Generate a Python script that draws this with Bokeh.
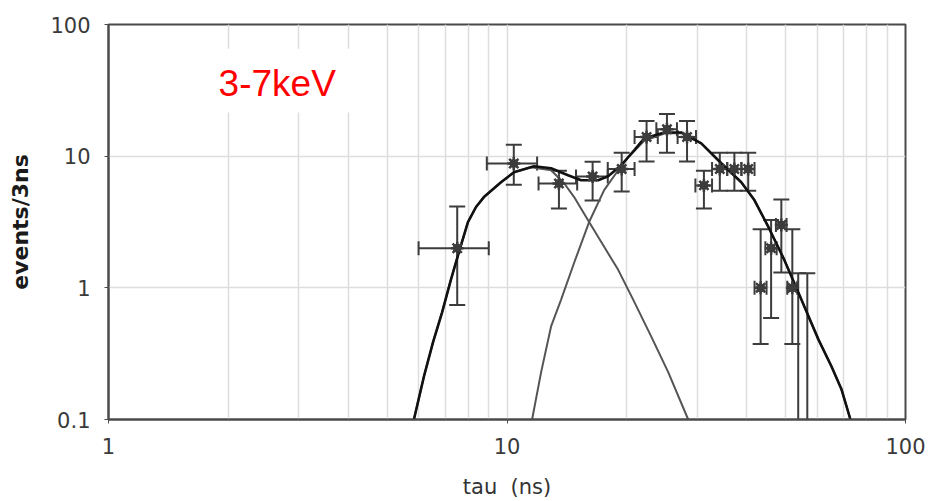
from bokeh.plotting import figure
from bokeh.models import (Range1d, FixedTicker, CustomJSTickFormatter, Whisker, TeeHead,
                          ColumnDataSource, Label, BoxAnnotation)
from bokeh.embed import file_html
from bokeh.resources import INLINE

# Decay-time histogram, 3-7 keV, events per 3 ns bin
tau = [7.5, 10.4, 13.5, 16.4, 19.4, 22.4, 25.2, 28.3, 31.2, 34.2, 37.2, 40.3,
       43.3, 46.0, 48.8, 52.0, 53.8, 56.7]
counts = [2.0, 8.8, 6.2, 7.0, 8.0, 14.0, 16.0, 14.0, 6.0, 8.0, 8.0, 8.0,
          1.0, 2.0, 3.0, 1.0, 0.0, 0.0]
err_hi = [4.14, 12.2, 7.75, 9.06, 10.6, 18.5, 20.9, 18.5, 7.75, 10.6, 10.6, 10.6,
          2.78, 3.27, 4.68, 2.78, 1.29, 1.29]
err_lo = [0.74, 6.07, 4.0, 4.6, 5.38, 9.1, 10.6, 9.1, 4.0, 5.47, 5.47, 5.47,
          0.375, 0.59, 1.31, 0.375, 0.0, 0.0]
BIN_WIDTH = 3.0

# Two-component fit: total and the fast / slow components
fit_tau = [5.84, 6.19, 6.52, 6.87, 7.23, 7.58, 7.98, 8.36, 8.75, 9.66,
           10.41, 11.69, 12.90, 14.23, 15.35, 16.93, 17.94, 19.34, 20.85, 22.09,
           24.80, 27.36, 30.73, 34.49, 38.72, 41.76, 45.28, 49.65, 54.79, 60.44,
           65.17, 69.06, 72.75]
fit_total = [0.10, 0.213, 0.385, 0.649, 1.15, 1.88, 3.16, 4.11, 4.89, 6.34,
             7.55, 8.38, 8.09, 7.16, 6.57, 6.57, 7.04, 8.53, 11.07, 13.64,
             15.14, 15.14, 12.51, 8.83, 6.34, 4.64, 2.90, 1.63, 0.814, 0.406,
             0.254, 0.170, 0.10]

fast_tau = [5.84, 6.19, 6.52, 6.87, 7.23, 7.58, 7.98, 8.36, 8.75, 9.66, 10.41,
            11.49, 12.90, 13.91, 14.74, 16.07, 17.53, 19.01, 20.73, 23.00, 25.38, 28.49]
fast_comp = [0.10, 0.213, 0.385, 0.649, 1.15, 1.88, 3.16, 4.11, 4.89, 6.34, 7.55,
             8.23, 7.82, 6.23, 4.89, 3.16, 2.05, 1.37, 0.814, 0.428, 0.229, 0.10]

slow_tau = [11.56, 12.18, 12.90, 13.67, 14.74, 16.07, 17.53, 19.01, 20.14, 22.09,
            24.80, 27.36, 30.73, 34.49, 38.72, 41.76, 45.28, 49.65, 54.79, 60.44,
            65.17, 69.06, 72.75]
slow_comp = [0.10, 0.229, 0.509, 0.814, 1.55, 3.16, 5.52, 7.82, 9.80, 13.06,
             14.88, 15.01, 12.51, 8.83, 6.34, 4.64, 2.90, 1.63, 0.814, 0.406,
             0.254, 0.170, 0.10]

X_MIN, X_MAX = 1, 100
Y_MIN, Y_MAX = 0.1, 100

TICK_FONT = "DejaVu Sans"
INK = "#3c3c3c"

p = figure(width=928, height=501, x_axis_type="log", y_axis_type="log",
           x_range=Range1d(X_MIN, X_MAX), y_range=Range1d(Y_MIN, Y_MAX),
           output_backend="svg", toolbar_location=None,
           min_border_left=108, min_border_right=23,
           min_border_top=24, min_border_bottom=81)
p.background_fill_color = "white"
p.border_fill_color = "white"
p.outline_line_color = "#4a4a4a"
p.outline_line_width = 2

# axes
minor = [m * d for d in (1, 10) for m in range(2, 10)]
p.xaxis.ticker = FixedTicker(ticks=[1, 10, 100], minor_ticks=minor)
p.yaxis.ticker = FixedTicker(ticks=[0.1, 1, 10, 100])
fmt = CustomJSTickFormatter(code="return String(tick);")
for ax in (p.xaxis[0], p.yaxis[0]):
    ax.formatter = fmt
    ax.axis_line_color = "#4a4a4a"
    ax.axis_line_width = 2
    ax.major_tick_line_color = "#4a4a4a"
    ax.major_tick_line_width = 1
    ax.major_tick_out = 4
    ax.major_tick_in = 0
    ax.minor_tick_line_color = None
    ax.major_label_text_font = TICK_FONT
    ax.major_label_text_font_size = "21px"
    ax.major_label_text_color = "#3a3a3a"

p.yaxis.major_label_standoff = 14
p.xaxis.major_label_standoff = 14

p.xaxis.axis_label = "tau \u00a0(ns)"
p.xaxis.axis_label_text_font = TICK_FONT
p.xaxis.axis_label_text_font_style = "normal"
p.xaxis.axis_label_text_font_size = "21px"
p.xaxis.axis_label_text_color = "#333333"
p.xaxis.axis_label_standoff = 18

p.yaxis.axis_label = "events/3ns"
p.yaxis.axis_label_text_font = TICK_FONT
p.yaxis.axis_label_text_font_style = "bold"
p.yaxis.axis_label_text_font_size = "22px"
p.yaxis.axis_label_text_color = "#1a1a1a"
p.yaxis.axis_label_standoff = 14

# grid: vertical lines at every minor decade step, horizontal at decades
p.xgrid.grid_line_color = "#dddddd"
p.xgrid.grid_line_width = 1.5
p.xgrid.minor_grid_line_color = "#dddddd"
p.xgrid.minor_grid_line_width = 1.5
p.ygrid.grid_line_color = "#dddddd"
p.ygrid.grid_line_width = 1.5

# white panel behind the energy-band label
p.add_layout(BoxAnnotation(left=1.654, right=4.224, bottom=21.45, top=65.3,
                           fill_color="white", fill_alpha=1.0, line_color=None,
                           level="glyph"))

# fit curves
p.line(fast_tau, fast_comp, line_color="#555555", line_width=2)
p.line(slow_tau, slow_comp, line_color="#555555", line_width=2)
p.line(fit_tau, fit_total, line_color="#111111", line_width=2.6)

# data with error bars
nz = [i for i, c in enumerate(counts) if c > 0]
zr = [i for i, c in enumerate(counts) if c <= 0]

pts = ColumnDataSource(dict(
    x=[tau[i] for i in nz],
    y=[counts[i] for i in nz],
    hi=[err_hi[i] for i in nz],
    lo=[err_lo[i] for i in nz],
    xlo=[tau[i] - BIN_WIDTH / 2 for i in nz],
    xhi=[tau[i] + BIN_WIDTH / 2 for i in nz],
))
empty = ColumnDataSource(dict(
    x=[tau[i] for i in zr],
    hi=[err_hi[i] for i in zr],
    lo=[max(err_lo[i], Y_MIN) for i in zr],
))

def tee(size):
    return TeeHead(size=size, line_color=INK, line_width=2)

p.add_layout(Whisker(source=pts, base="x", upper="hi", lower="lo", dimension="height",
                     line_color=INK, line_width=2,
                     upper_head=tee(16), lower_head=tee(16)))
p.add_layout(Whisker(source=pts, base="y", upper="xhi", lower="xlo", dimension="width",
                     line_color=INK, line_width=2,
                     upper_head=tee(14), lower_head=tee(14)))
p.add_layout(Whisker(source=empty, base="x", upper="hi", lower="lo", dimension="height",
                     line_color=INK, line_width=2,
                     upper_head=tee(16), lower_head=None))

p.scatter("x", "y", source=pts, marker="circle", size=8,
          fill_color=INK, line_color=INK)
p.scatter("x", "y", source=pts, marker="asterisk", size=13,
          line_color=INK, line_width=2.5)

# energy-band label
p.add_layout(Label(x=1.889, y=35.5, text="3-7keV", text_color="#ff0000",
                   text_font="Liberation Sans", text_font_size="37px",
                   text_align="left", text_baseline="alphabetic"))

open("out.html", "w").write(file_html(p, INLINE))
